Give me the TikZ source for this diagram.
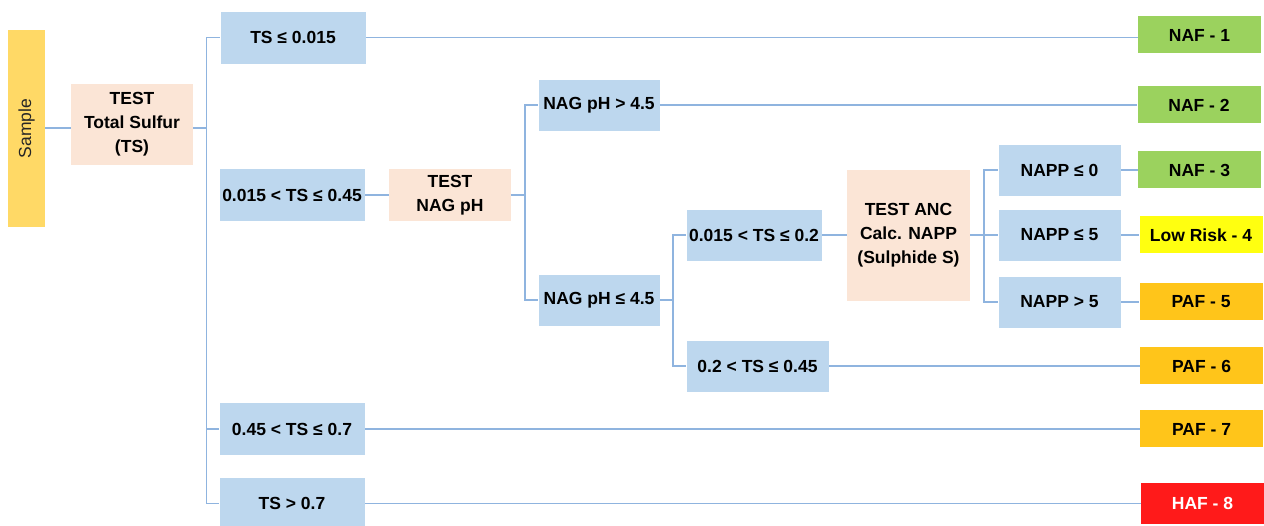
\documentclass[tikz,border=0pt]{standalone}
\usepackage{fontspec}
\setmainfont{Liberation Sans}
\definecolor{boxblue}{HTML}{BDD7EE}
\definecolor{boxpeach}{HTML}{FBE5D6}
\definecolor{sampleyellow}{HTML}{FFD966}
\definecolor{resgreen}{HTML}{9BD25E}
\definecolor{resyellow}{HTML}{FFFF10}
\definecolor{resorange}{HTML}{FFC51A}
\definecolor{resred}{HTML}{FF1A1A}
\definecolor{linkblue}{HTML}{8FB4DF}
\tikzset{
  base/.style={inner sep=0pt, align=center, font=\fontsize{17.5}{24}\selectfont\bfseries, text=black},
  cond/.style={base, fill=boxblue, draw=white, line width=0.8pt},
  test/.style={base, fill=boxpeach},
  res/.style={base, minimum width=123pt, minimum height=37pt},
  link/.style={draw=linkblue, line width=1.1pt}
}
\begin{document}
\begin{tikzpicture}[x=1pt,y=-1pt]
\useasboundingbox (0,0) rectangle (1264,526);
% sample and first test
\node[fill=sampleyellow, minimum width=37pt, minimum height=197pt, inner sep=0pt] (sample) at (26.5,128.5) {};
\node[rotate=90, font=\fontsize{17.5}{20}\selectfont, text=black!85] (sampletext) at (26.5,128.5) {Sample};
\node[test, minimum width=122pt, minimum height=81pt] (ts) at (132,124.5) {TEST\\Total Sulfur\\(TS)};
% first level conditions
\node[cond, minimum width=146pt, minimum height=53pt] (c1) at (293,37.5) {TS ≤ 0.015};
\node[cond, minimum width=146pt, minimum height=53pt] (c2) at (292,195) {0.015 < TS ≤ 0.45};
\node[cond, minimum width=146pt, minimum height=53pt] (c3) at (292,429) {0.45 < TS ≤ 0.7};
\node[cond, minimum width=146pt, minimum height=53pt] (c4) at (292,503.5) {TS > 0.7};
% NAG test
\node[test, minimum width=122pt, minimum height=52pt] (nag) at (450,195) {TEST\\NAG pH};
\node[cond, minimum width=122pt, minimum height=52pt] (n1) at (599,105) {NAG pH > 4.5};
\node[cond, minimum width=122pt, minimum height=52pt] (n2) at (599,300) {NAG pH ≤ 4.5};
\node[cond, minimum width=136pt, minimum height=52pt] (s1) at (754,235) {0.015 < TS ≤ 0.2};
\node[cond, minimum width=143pt, minimum height=52pt] (s2) at (757.5,366) {0.2 < TS ≤ 0.45};
% ANC test
\node[test, minimum width=123pt, minimum height=131pt] (anc) at (908.5,235.5) {TEST ANC\\Calc. NAPP\\(Sulphide S)};
\node[cond, minimum width=123pt, minimum height=52pt] (p1) at (1059.5,170) {NAPP ≤ 0};
\node[cond, minimum width=123pt, minimum height=52pt] (p2) at (1059.5,235) {NAPP ≤ 5};
\node[cond, minimum width=123pt, minimum height=52pt] (p3) at (1059.5,302) {NAPP > 5};
% results
\node[res, fill=resgreen] (r1) at (1199.5,35) {NAF - 1};
\node[res, fill=resgreen] (r2) at (1199,105) {NAF - 2};
\node[res, fill=resgreen] (r3) at (1199.5,170) {NAF - 3};
\node[res, fill=resyellow] (r4) at (1201,235) {Low Risk - 4};
\node[res, fill=resorange] (r5) at (1201,302) {PAF - 5};
\node[res, fill=resorange] (r6) at (1201.5,366) {PAF - 6};
\node[res, fill=resorange] (r7) at (1201.5,429) {PAF - 7};
\node[res, fill=resred, minimum height=41pt, text=white] (r8) at (1202.5,503.5) {HAF - 8};
% bus coordinates
\coordinate (b1) at (206.5,128);
\coordinate (b2) at (525,195);
\coordinate (b3) at (673,300);
\coordinate (b4) at (984,235);
% connectors
\draw[link] (sample.east |- b1) -- (ts.west |- b1);
\draw[link] (ts.east |- b1) -- (b1);
\draw[link] (c1.west) -| (b1) |- (c4.west);
\draw[link] (b1 |- c3.west) -- (c3.west);
\draw[link] (c1.east) -- (c1.east -| r1.west);
\draw[link] (c2.east) -- (nag.west);
\draw[link] (c3.east) -- (r7.west);
\draw[link] (c4.east) -- (r8.west);
\draw[link] (nag.east) -- (b2);
\draw[link] (n1.west) -| (b2) |- (n2.west);
\draw[link] (n1.east) -- (r2.west);
\draw[link] (n2.east) -- (b3);
\draw[link] (s1.west) -| (b3) |- (s2.west);
\draw[link] (s2.east) -- (r6.west);
\draw[link] (s1.east) -- (anc.west |- s1.east);
\draw[link] (anc.east |- b4) -- (b4);
\draw[link] (p1.west) -| (b4) |- (p3.west);
\draw[link] (b4) -- (p2.west);
\draw[link] (p1.east) -- (r3.west);
\draw[link] (p2.east) -- (r4.west);
\draw[link] (p3.east) -- (r5.west);
\end{tikzpicture}
\end{document}
